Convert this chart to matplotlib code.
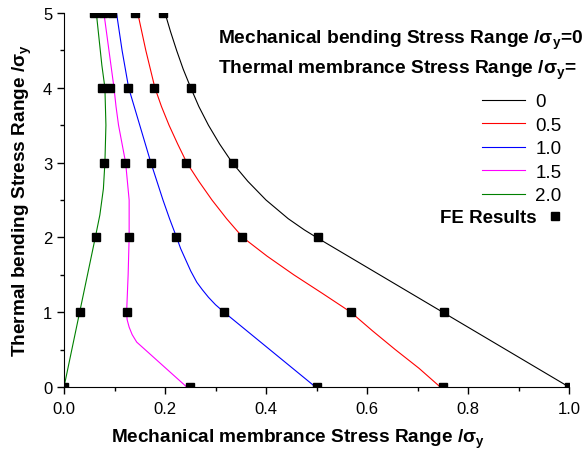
import numpy as np
import matplotlib
matplotlib.use('Agg')
import matplotlib.pyplot as plt
from matplotlib.lines import Line2D

plt.rcParams['font.family'] = ['Liberation Sans', 'DejaVu Sans']
plt.rcParams['mathtext.fontset'] = 'custom'
plt.rcParams['mathtext.rm'] = 'Liberation Sans'
plt.rcParams['mathtext.bf'] = 'Liberation Sans:bold'

# thermal membrane stress ratio for each curve
labels = ['0', '0.5', '1.0', '1.5', '2.0']
colors = ['black', 'red', 'blue', 'magenta', 'green']

# analytical curves: thermal bending (y) vs mechanical membrane (x)
y_black = [0, 1, 2, 2.1, 2.25, 2.5, 2.75, 3, 3.25, 3.5, 3.75, 4, 4.25, 4.5, 4.75, 5]
x_black = [1.0, 0.75, 0.5, 0.476, 0.444, 0.4, 0.364, 0.333, 0.308, 0.286, 0.267,
           0.251, 0.236, 0.223, 0.211, 0.2]

y_red = [0, 0.25, 0.5, 0.75, 1.0, 1.25, 1.5, 1.75, 2.0, 2.25, 2.5, 2.75, 3.0,
         3.25, 3.5, 3.75, 4, 4.5, 5]
x_red = [0.745, 0.703, 0.656, 0.611, 0.568, 0.512, 0.455, 0.402, 0.354, 0.322,
         0.293, 0.267, 0.243, 0.225, 0.208, 0.193, 0.180, 0.162, 0.146]

y_blue = [0, 1.0, 1.1, 1.2, 1.3, 1.4, 1.55, 1.7, 1.85, 2.0, 2.25, 2.5, 2.75,
          3.0, 3.5, 4, 4.5, 5]
x_blue = [0.498, 0.317, 0.300, 0.286, 0.274, 0.263, 0.251, 0.241, 0.231, 0.223,
          0.209, 0.196, 0.184, 0.172, 0.150, 0.128, 0.115, 0.104]

y_mag = [0, 0.6, 0.7, 0.8, 0.9, 1.0, 1.5, 2.0, 2.5, 3.0, 3.25, 3.5, 3.75, 4,
         4.5, 5]
x_mag = [0.243, 0.144, 0.135, 0.129, 0.125, 0.124, 0.127, 0.129, 0.129, 0.122,
         0.115, 0.108, 0.103, 0.099, 0.089, 0.079]

y_green = [0, 1, 2, 2.3, 2.65, 3, 3.5, 4, 4.3, 5]
x_green = [0.0, 0.031, 0.062, 0.071, 0.078, 0.081, 0.083, 0.081, 0.075, 0.064]

# FE results
fe_y = [0, 1, 2, 3, 4, 5]
fe_black = [1.0, 0.752, 0.502, 0.335, 0.251, 0.197]
fe_red = [0.75, 0.568, 0.353, 0.242, 0.178, 0.141]
fe_blue = [0.5, 0.317, 0.222, 0.172, 0.127, 0.095]
fe_mag = [0.25, 0.125, 0.128, 0.121, 0.092, 0.077]
fe_green = [0.0, 0.031, 0.063, 0.079, 0.075, 0.059]

curves = [(x_black, y_black), (x_red, y_red), (x_blue, y_blue),
          (x_mag, y_mag), (x_green, y_green)]
fe_all = [fe_black, fe_red, fe_blue, fe_mag, fe_green]

fig = plt.figure(figsize=(5.84, 4.56), dpi=100)
ax = fig.add_axes([64/584, 68/456, 505/584, 374/456])

handles = []
for (xs, ys), c, lab in zip(curves, colors, labels):
    h, = ax.plot(xs, ys, color=c, lw=0.8, label=lab)
    handles.append(h)
for fe in fe_all:
    ax.plot(fe, fe_y, 's', color='black', ms=5.8, zorder=5)

ax.set_xlim(0, 1.0)
ax.set_ylim(0, 5)
ax.set_xticks(np.arange(0, 1.01, 0.2))
ax.set_xticks(np.arange(0.1, 1.0, 0.2), minor=True)
ax.set_yticks(range(0, 6))
ax.set_yticks(np.arange(0.5, 5, 1.0), minor=True)
ax.set_xticklabels(['0.0', '0.2', '0.4', '0.6', '0.8', '1.0'])
ax.spines['top'].set_visible(False)
ax.spines['right'].set_visible(False)
ax.tick_params(which='major', direction='out', length=5, width=1, labelsize=12)
ax.tick_params(axis='x', which='major', pad=5)
ax.tick_params(which='minor', direction='out', length=3, width=1)

ax.set_xlabel('Mechanical membrance Stress Range /σ$_\\mathbf{y}$',
              fontsize=13.7, fontweight='bold')
ax.xaxis.set_label_coords(0.463, -0.105)
ax.set_ylabel('Thermal bending Stress Range /σ$_\\mathbf{y}$',
              fontsize=13.7, fontweight='bold', labelpad=6)

ax.text(0.305, 0.930, 'Mechanical bending Stress Range /σ$_\\mathbf{y}$=0',
        transform=ax.transAxes, fontsize=13.8, fontweight='bold', va='center')
ax.text(0.305, 0.850, 'Thermal membrance Stress Range /σ$_\\mathbf{y}$=',
        transform=ax.transAxes, fontsize=13.8, fontweight='bold', va='center')

leg = ax.legend(handles=handles, loc='upper left', bbox_to_anchor=(0.813, 0.806),
                frameon=False, fontsize=13.5, handlelength=2.3, handletextpad=0.53,
                labelspacing=0.34, borderaxespad=0)
ax.add_artist(leg)

fe_handle = Line2D([], [], marker='s', color='black', ls='none', ms=5.8)
ax.legend(handles=[fe_handle], labels=['FE Results'], loc='upper left',
          bbox_to_anchor=(0.729, 0.496), frameon=False, markerfirst=False,
          prop={'weight': 'bold', 'size': 13.5}, handlelength=0.8,
          handletextpad=0.6, borderaxespad=0)

fig.savefig('out.png', dpi=100)
